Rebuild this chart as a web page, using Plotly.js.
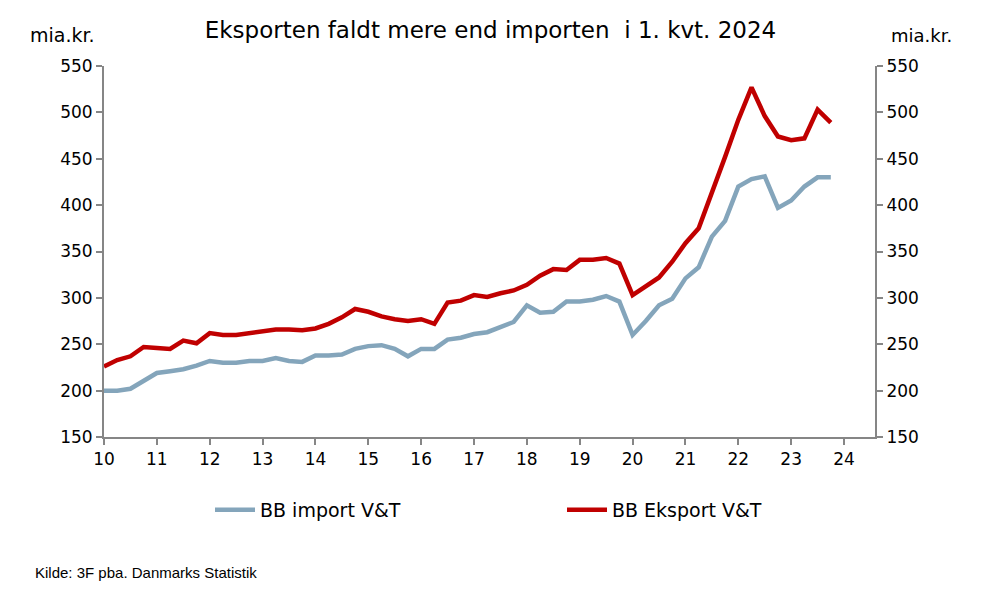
<!DOCTYPE html>
<html>
<head>
<meta charset="utf-8">
<script src="https://cdn.plot.ly/plotly-3.0.1.min.js"></script>
<style>html,body{margin:0;padding:0;background:#fff;}#chart{width:981px;height:606px;}</style>
</head>
<body>
<div id="chart"></div>
<script>
// Quarterly values, 2010 Q1 .. 2023 Q4 (mia. kr.)
const startYear = 10; // axis shows two-digit years
const importVT = [
  200,200,202,211, 219,221,223,227, 232,230,230,232, 232,235,232,231,
  238,238,239,245, 248,249,245,237, 245,245,255,257, 261,263,268,274,
  292,284,285,296, 296,298,302,296, 260,275,292,299, 321,333,366,383,
  420,428,431,397, 405,420,430,430
];
const eksportVT = [
  226,233,237,247, 246,245,254,251, 262,260,260,262, 264,266,266,265,
  267,272,279,288, 285,280,277,275, 277,272,295,297, 303,301,305,308,
  314,324,331,330, 341,341,343,337, 303,312,322,339, 359,375,412,452,
  492,527,496,474, 470,472,503,489
];
const tickYears = [10,11,12,13,14,15,16,17,18,19,20,21,22,23,24];
const tickLabels = ["10","11","12","13","14","15","16","17","18","19","20","21","22","23","24"];
const seriesNames = ["BB import V&T", "BB Eksport V&T"];

const xq = importVT.map((_, i) => startYear + i / 4);

const FONT = "DejaVu Sans, Verdana, sans-serif";
const AXC = "#868686";

const traces = [
  {x: xq, y: importVT, name: seriesNames[0], type: "scatter", mode: "lines",
   yaxis: "y2", legend: "legend",
   line: {color: "#84A5BB", width: 4.5}},
  {x: xq, y: eksportVT, name: seriesNames[1], type: "scatter", mode: "lines",
   yaxis: "y", legend: "legend2",
   line: {color: "#C00000", width: 4.5}}
];

const axisCommon = {
  showgrid: false, zeroline: false, showline: true, linecolor: AXC, linewidth: 2,
  ticks: "outside", ticklen: 6, tickwidth: 2, tickcolor: AXC,
  tickfont: {family: FONT, size: 17, color: "#000"}
};

const legendCommon = {
  orientation: "h", xanchor: "left", y: -73/371, yanchor: "middle", itemwidth: 40,
  font: {family: FONT, size: 19, color: "#000"}, bgcolor: "rgba(0,0,0,0)"
};

const layout = {
  width: 981, height: 606,
  margin: {l: 104, r: 106, t: 66, b: 169},
  paper_bgcolor: "#fff", plot_bgcolor: "#fff",
  font: {family: FONT, color: "#000"},
  title: {text: "Eksporten faldt mere end importen\u00a0 i 1. kvt. 2024",
          font: {family: FONT, size: 23, color: "#000"},
          x: 0.5, xref: "container", xanchor: "center",
          y: 1 - 30/606, yref: "container", yanchor: "middle"},
  xaxis: Object.assign({range: [10, 24.586], tickvals: tickYears, ticktext: tickLabels}, axisCommon),
  yaxis: Object.assign({range: [150, 550], dtick: 50, tick0: 150}, axisCommon),
  yaxis2: Object.assign({range: [150, 550], dtick: 50, tick0: 150, overlaying: "y", side: "right"}, axisCommon),
  showlegend: true,
  legend: Object.assign({x: (210-104)/771}, legendCommon),
  legend2: Object.assign({x: (562-104)/771}, legendCommon),
  annotations: [
    {text: "mia.kr.", xref: "paper", yref: "paper", x: (62-104)/771, y: 1 + (66-35)/371,
     xanchor: "center", yanchor: "middle", showarrow: false, font: {family: FONT, size: 19, color: "#000"}},
    {text: "mia.kr.", xref: "paper", yref: "paper", x: (921-104)/771, y: 1 + (66-35)/371,
     xanchor: "center", yanchor: "middle", showarrow: false, font: {family: FONT, size: 18, color: "#000"}},
    {text: "Kilde: 3F pba. Danmarks Statistik", xref: "paper", yref: "paper",
     x: (33-104)/771, y: -(572-437)/371, xanchor: "left", yanchor: "middle", showarrow: false,
     font: {family: "Liberation Sans Narrow, Liberation Sans, Arial, sans-serif", size: 15, color: "#000"}}
  ]
};

Plotly.newPlot("chart", traces, layout, {staticPlot: true, displayModeBar: false});
</script>
</body>
</html>
